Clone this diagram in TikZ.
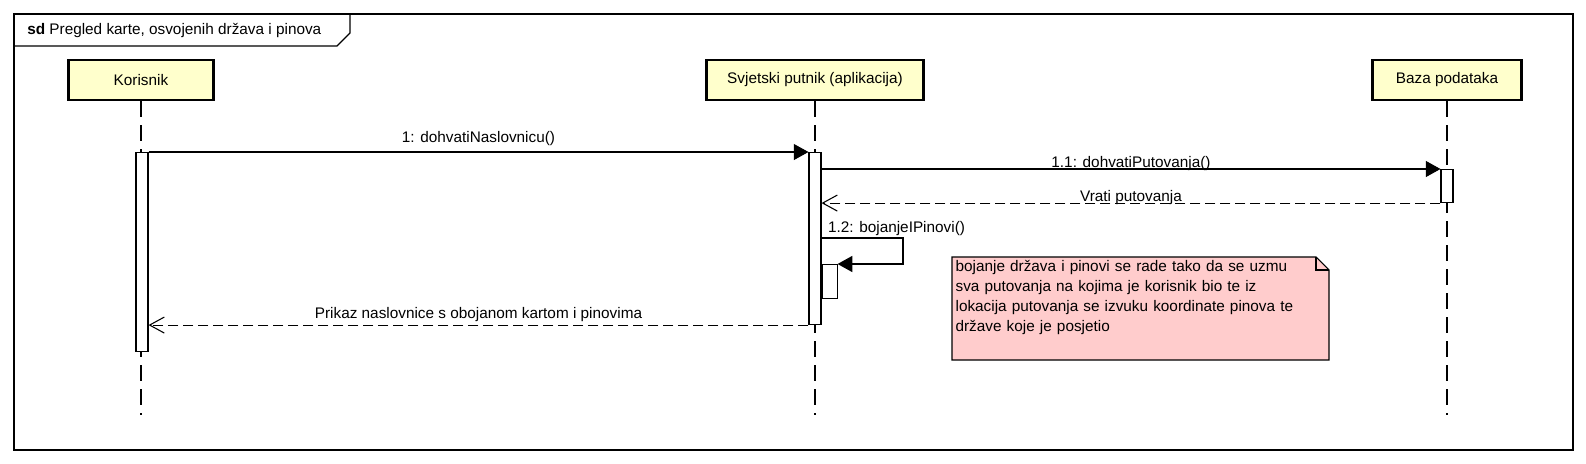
\documentclass[tikz,border=0pt]{standalone}
\usepackage{fontspec}
\setmainfont{Liberation Sans}
\usetikzlibrary{arrows.meta}
\definecolor{partfill}{HTML}{FFFFCC}
\definecolor{notefill}{HTML}{FFCCCC}

\begin{document}
\begin{tikzpicture}[x=0.75pt, y=-0.75pt, font=\fontsize{11.5}{15}\selectfont]
\tikzstyle{participant} = [rectangle, minimum height=30pt, text centered, draw=black, line width=2.2pt, fill=partfill]
\tikzstyle{activation} = [rectangle, minimum width=9pt, draw=black, line width=0.8pt, fill=white, inner sep=0pt]
\tikzstyle{lifeline} = [line width=0.8pt, dash pattern=on 12pt off 6pt]
\tikzstyle{call} = [-{Triangle[length=11pt, width=12pt]}, line width=0.8pt]
\tikzstyle{reply} = [-{Straight Barb[length=11pt, width=12pt]}, line width=0.8pt, dash pattern=on 7.5pt off 3.75pt]
\useasboundingbox (0,0) rectangle (1586,464);

\draw [line width=0.8pt] (14,14) rectangle (1573,450);
\draw [line width=0.8pt] (14,46) -- (337,46) -- (350,33) -- (350,14);
\node (title) [anchor=west, inner sep=0pt] at (27,31) {\textbf{sd} Pregled karte, osvojenih država i pinova};

\node (kor) [participant, minimum width=108.75pt] at (141,80) {Korisnik};
\node (app) [participant, minimum width=162.75pt] at (815,80) {Svjetski putnik (aplikacija)};
\node (db)  [participant, minimum width=111.75pt] at (1447,80) {Baza podataka};

\draw [lifeline] (kor) -- (kor |- 0,415);
\draw [lifeline] (app) -- (app |- 0,415);
\draw [lifeline] (db) -- (db |- 0,415);

\node (korAct) [activation, minimum height=149.25pt, anchor=north] at (142,152) {};
\node (appAct) [activation, minimum height=129pt, anchor=north] at (815,152) {};
\node (dbAct)  [activation, minimum height=24.75pt, anchor=north] at (1447,169) {};
\node (subAct) [activation, minimum width=11.25pt, minimum height=25.5pt, anchor=north west] at (appAct.east |- 0,264) {};
\coordinate (loop) at (903,238);

\draw [call] (korAct.north east) -- node[anchor=base, yshift=7.5pt] {1: dohvatiNaslovnicu()} (appAct.north west);
\draw [call] (appAct.east |- dbAct.north) -- node[anchor=base, yshift=1.5pt] {1.1: dohvatiPutovanja()} (dbAct.north west);
\draw [reply] (dbAct.south west) -- node[anchor=base, yshift=1.5pt] {Vrati putovanja} (appAct.east |- dbAct.south);
\draw [call] (appAct.east |- loop) -- node[pos=0, anchor=base west, inner sep=0pt, xshift=4.5pt, yshift=4.5pt] {1.2: bojanjeIPinovi()} (loop) |- (subAct.north east);
\draw [reply] (appAct.south west) -- node[anchor=base, yshift=5pt] {Prikaz naslovnice s obojanom kartom i pinovima} (korAct.east |- appAct.south);

\coordinate (noteNW) at (952,257);
\coordinate (noteSE) at (1329,360);
\draw [line width=0.8pt, fill=notefill] (noteNW) -- (1316,257) -- (1329,270) -- (noteSE) -- (noteNW |- noteSE) -- cycle;
\draw [line width=0.8pt] (1316,257) -- (1316,270) -- (1329,270);
\node (note) [anchor=north west, text width=277pt, align=left, inner sep=2.5pt] at (noteNW) {bojanje država i pinovi se rade tako da se uzmu\\sva putovanja na kojima je korisnik bio te iz\\lokacija putovanja se izvuku koordinate pinova te\\države koje je posjetio};
\end{tikzpicture}
\end{document}
